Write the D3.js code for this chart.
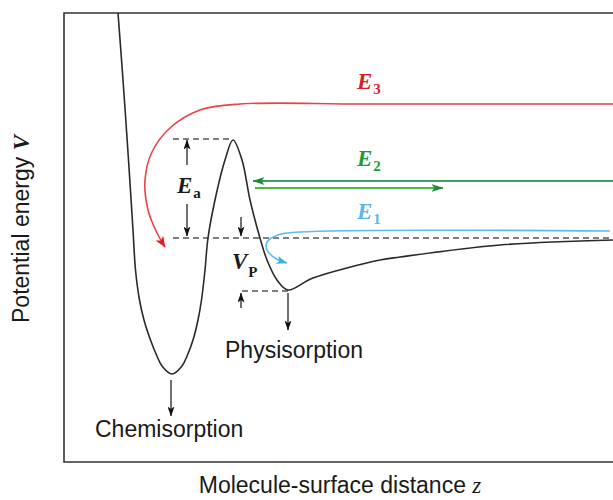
<!DOCTYPE html>
<html>
<head>
<meta charset="utf-8">
<script src="https://cdn.jsdelivr.net/npm/d3@7"></script>
<style>
  body { margin: 0; background: #fff; }
  svg { display: block; }
  .sans { font-family: "Liberation Sans", Arial, sans-serif; fill: #1a1a1a; }
  .sym { font-family: "Liberation Serif", "Times New Roman", serif; font-weight: bold; }
</style>
</head>
<body>
<svg id="chart" width="613" height="500"></svg>
<script>
// DATA: potential energy V(z), arbitrary units (z = distance, V = energy)
const potential = [
  [5.4, 22.5], [5.9, 15.8], [6.45, 7.8], [6.9, 0.8], [7.15, -3.2], [7.55, -6.2],
  [8.0, -8.2], [8.65, -10.2], [9.25, -11.7], [9.8, -12.8], [10.8, -13.6],
  [11.8, -12.8], [12.35, -11.7], [12.9, -10.2], [13.4, -8.2], [13.75, -6.2],
  [14.1, -3.2], [14.4, 0], [15.1, 3.8], [16.1, 7.8], [16.9, 9.8], [17.8, 7.8],
  [18.6, 3.8], [19.6, 0], [20.3, -2.2], [21.3, -4.2], [22.4, -5.2], [24.9, -4.0],
  [31.6, -2.2], [33.6, -1.9], [43.6, -0.7], [54.9, -0.2]
];

// dashed reference levels: barrier top, gas-phase zero, physisorption well
const dashedLevels = [
  { z0: 10.9, z1: 16.9, v: 9.9 },
  { z0: 10.9, z1: 54.9, v: 0 },
  { z0: 17.8, z1: 22.4, v: -5.3 }
];

// black arrows: z, start V, tip V
const blackArrows = [
  [12.3, 7.3, 9.8], [12.3, 3.4, 0.2],      // Ea
  [17.7, 2.1, 0.2], [17.7, -7.0, -5.5],    // Vp
  [22.4, -5.5, -9.2],                      // physisorption
  [10.7, -14.2, -17.8]                     // chemisorption
];

// incoming molecule trajectories
const e3Path = [[54.9, 13.4], [30, 13.4], [17.6, 13.4], [13.6, 12.8], [10.6, 11.0],
  [8.8, 8.6], [8.1, 5.8], [8.4, 2.8], [9.3, 0.5], [10.1, -0.9]];
const e2Arrows = [
  { z0: 54.9, z1: 18.9, v: 5.7, color: "#3a9e68" },
  { z0: 19.1, z1: 37.9, v: 5.0, color: "#4cb94c" }
];
const e1Path = [[54.6, 0.7], [23.6, 0.6], [21.4, 0.3], [20.3, -0.4], [20.3, -1.2],
  [21.1, -2.0], [22.3, -2.5]];

// symbol labels
const energyLabels = [
  { main: "E", sub: "3", z: 29.3, v: 14.9, color: "#d81f26" },
  { main: "E", sub: "2", z: 29.3, v: 7.2, color: "#1f9a3a" },
  { main: "E", sub: "1", z: 29.3, v: 1.9, color: "#5ab6ee" },
  { main: "E", sub: "a", z: 11.3, v: 4.5, color: "#1a1a1a" },
  { main: "V", sub: "P", z: 16.8, v: -3.1, color: "#1a1a1a" }
];
const siteLabels = [
  { text: "Physisorption", z: 16.1, v: -12.0 },
  { text: "Chemisorption", z: 3.1, v: -19.9 }
];

// SETUP
const svg = d3.select("#chart");
const x = d3.scaleLinear().domain([0, 55]).range([64, 614]);
const y = d3.scaleLinear().domain([-22.4, 22.5]).range([462, 13]);

// arrowhead markers
const defs = svg.append("defs");
function marker(id, color, len, half) {
  defs.append("marker")
    .attr("id", id)
    .attr("markerUnits", "userSpaceOnUse")
    .attr("viewBox", `0 ${-half} ${len} ${half * 2}`)
    .attr("markerWidth", len)
    .attr("markerHeight", half * 2)
    .attr("refX", len - 0.5)
    .attr("refY", 0)
    .attr("orient", "auto")
    .append("path")
    .attr("d", `M0,${-half}L${len},0L0,${half}L${len * 0.25},0Z`)
    .attr("fill", color);
}
marker("ah-black", "#111", 10, 3.5);
marker("ah-red", "#e01c24", 11, 4.5);
marker("ah-green", "#1a8c3a", 12, 4);
marker("ah-blue", "#3fb0ee", 11, 4);

// frame (left, top, bottom)
svg.append("path")
  .attr("d", `M${x(55)},${y(22.5)}H${x(0)}V${y(-22.4)}H${x(55)}`)
  .attr("fill", "none")
  .attr("stroke", "#333")
  .attr("stroke-width", 1.6);

// dashed levels
svg.selectAll(".level")
  .data(dashedLevels)
  .enter()
  .append("line")
  .attr("x1", d => x(d.z0)).attr("x2", d => x(d.z1))
  .attr("y1", d => y(d.v)).attr("y2", d => y(d.v))
  .attr("stroke", "#555")
  .attr("stroke-width", 1.5)
  .attr("stroke-dasharray", "6,4");

// potential curve
const line = d3.line()
  .x(d => x(d[0]))
  .y(d => y(d[1]))
  .curve(d3.curveCatmullRom.alpha(0.5));

svg.append("path")
  .datum(potential)
  .attr("d", line)
  .attr("fill", "none")
  .attr("stroke", "#2a2a2a")
  .attr("stroke-width", 1.6);

// black arrows
svg.selectAll(".barrow")
  .data(blackArrows)
  .enter()
  .append("line")
  .attr("x1", d => x(d[0])).attr("x2", d => x(d[0]))
  .attr("y1", d => y(d[1])).attr("y2", d => y(d[2]))
  .attr("stroke", "#111")
  .attr("stroke-width", 1.2)
  .attr("marker-end", "url(#ah-black)");

// E3 trajectory
svg.append("path")
  .datum(e3Path)
  .attr("d", line)
  .attr("fill", "none")
  .attr("stroke", "#e8424a")
  .attr("stroke-width", 1.6)
  .attr("marker-end", "url(#ah-red)");

// E2 trajectory
svg.selectAll(".garrow")
  .data(e2Arrows)
  .enter()
  .append("line")
  .attr("x1", d => x(d.z0)).attr("x2", d => x(d.z1))
  .attr("y1", d => y(d.v)).attr("y2", d => y(d.v))
  .attr("stroke", d => d.color)
  .attr("stroke-width", 1.8)
  .attr("marker-end", "url(#ah-green)");

// E1 trajectory
svg.append("path")
  .datum(e1Path)
  .attr("d", line)
  .attr("fill", "none")
  .attr("stroke", "#5bbcf2")
  .attr("stroke-width", 1.6)
  .attr("marker-end", "url(#ah-blue)");

// symbol labels
const sym = svg.selectAll(".symlabel")
  .data(energyLabels)
  .enter()
  .append("text")
  .attr("class", "sym")
  .attr("x", d => x(d.z))
  .attr("y", d => y(d.v))
  .attr("fill", d => d.color);
sym.append("tspan")
  .attr("font-size", 23)
  .attr("font-style", "italic")
  .text(d => d.main);
sym.append("tspan")
  .attr("font-size", 15)
  .attr("dx", 1)
  .attr("dy", d => d.main === "V" ? 8 : 5)
  .text(d => d.sub);

// site labels
svg.selectAll(".site")
  .data(siteLabels)
  .enter()
  .append("text")
  .attr("class", "sans")
  .attr("font-size", 23)
  .attr("x", d => x(d.z))
  .attr("y", d => y(d.v))
  .text(d => d.text);

// axis labels
const xl = svg.append("text")
  .attr("class", "sans")
  .attr("font-size", 23)
  .attr("text-anchor", "middle")
  .attr("x", 340)
  .attr("y", 493);
xl.append("tspan").text("Molecule-surface distance ");
xl.append("tspan")
  .attr("font-family", "'Liberation Serif', serif")
  .attr("font-style", "italic")
  .text("z");

const yl = svg.append("text")
  .attr("class", "sans")
  .attr("font-size", 23)
  .attr("text-anchor", "middle")
  .attr("transform", "translate(29,229) rotate(-90)");
yl.append("tspan").text("Potential energy ");
yl.append("tspan")
  .attr("font-family", "'Liberation Serif', serif")
  .attr("font-weight", "bold")
  .attr("font-style", "italic")
  .text("V");
</script>
</body>
</html>
